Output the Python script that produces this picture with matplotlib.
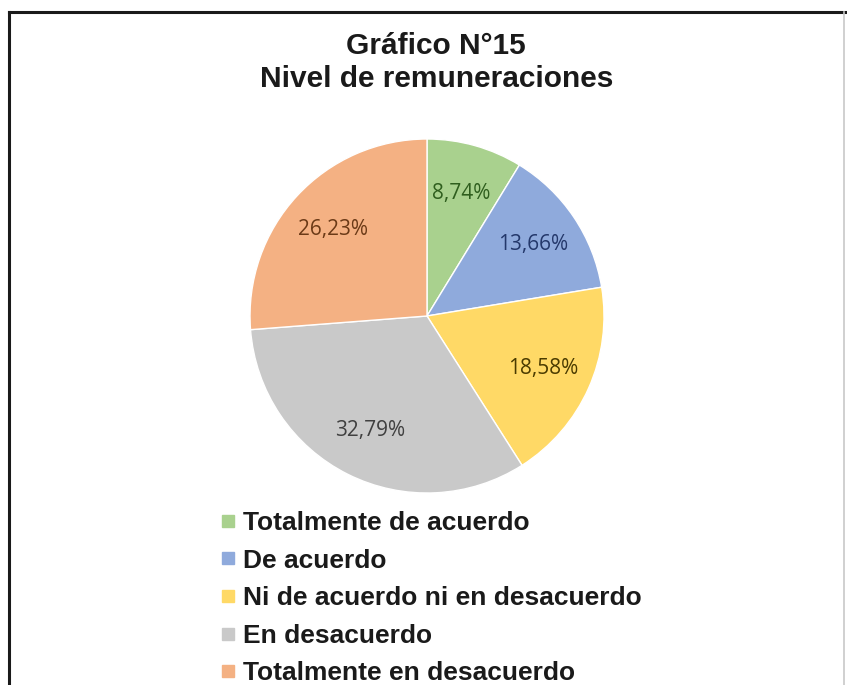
import matplotlib
matplotlib.use("Agg")
import matplotlib.pyplot as plt
from matplotlib.lines import Line2D

W, H = 847, 685

categories = ["Totalmente de acuerdo", "De acuerdo", "Ni de acuerdo ni en desacuerdo",
              "En desacuerdo", "Totalmente en desacuerdo"]
values = [8.74, 13.66, 18.58, 32.79, 26.23]
colors = ["#a9d18e", "#8faadc", "#ffd966", "#c9c9c9", "#f4b183"]
label_colors = ["#2f5e1e", "#24386b", "#4a3b00", "#404040", "#6b3a17"]

fig = plt.figure(figsize=(W / 100, H / 100), dpi=100)
fig.patch.set_facecolor("white")

# chart frame: dark top and left edges, faint right edge
fx0, fx1, fy0 = 8.5 / W, 844 / W, 1 - 12 / H
fig.add_artist(Line2D([fx0, 1], [fy0, fy0], color="#1a1a1a", lw=2.2))
fig.add_artist(Line2D([fx0, fx0], [fy0, 0], color="#1a1a1a", lw=2.2))
fig.add_artist(Line2D([fx1, fx1], [fy0, 0], color="#c8c8c8", lw=1.2))

fig.text(436 / W, 1 - 54 / H, "Gráfico N°15", ha="center", va="baseline",
         fontsize=21.5, fontweight="bold", family="Liberation Sans", color="#1a1a1a")
fig.text(437 / W, 1 - 87 / H, "Nivel de remuneraciones", ha="center", va="baseline",
         fontsize=21.5, fontweight="bold", family="Liberation Sans", color="#1a1a1a")

cx, cy, r = 427, 316, 177
ax = fig.add_axes([(cx - r) / W, (H - cy - r) / H, 2 * r / W, 2 * r / H])
wedges, texts, autotexts = ax.pie(
    values, colors=colors, startangle=90, counterclock=False,
    autopct=lambda p: ("%.2f%%" % p).replace(".", ","), pctdistance=0.72,
    wedgeprops=dict(edgecolor="white", linewidth=1.0),
    textprops=dict(fontsize=15, family="Open Sans"))
for t, c in zip(autotexts, label_colors):
    t.set_color(c)
ax.set_xlim(-1, 1)
ax.set_ylim(-1, 1)

handles = [Line2D([], [], marker="s", ls="", color=c, markersize=8) for c in colors]
leg = fig.legend(handles, categories, loc="upper left",
                 bbox_to_anchor=(221 / W, 1 - 511 / H), frameon=False,
                 handlelength=0.5, handletextpad=0.34, labelspacing=0.515,
                 borderaxespad=0, borderpad=0,
                 prop=dict(family="Liberation Sans", weight="bold", size=19))
for t in leg.get_texts():
    t.set_color("#1a1a1a")

fig.savefig("out.png", dpi=100)
